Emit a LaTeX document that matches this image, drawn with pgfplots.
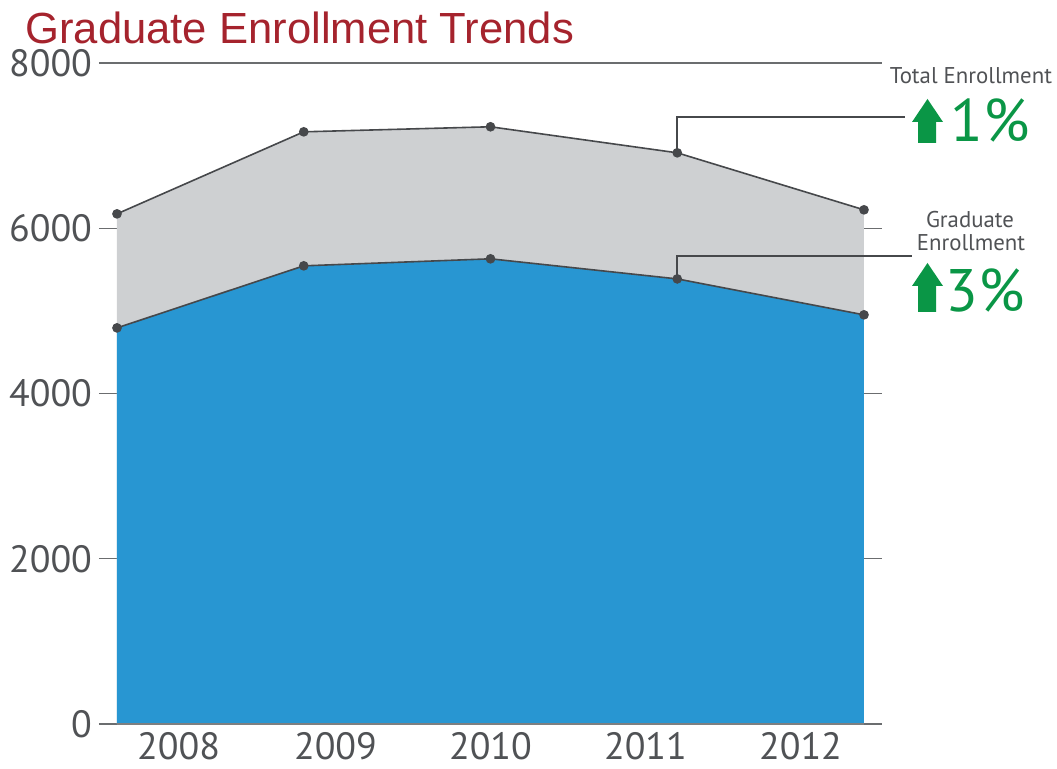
\documentclass[border=0pt]{standalone}
\usepackage{fontspec}
\setmainfont{PT Sans}
\newfontfamily\titlefont{Liberation Sans}
\usepackage{pgfplots}
\pgfplotsset{compat=1.18}
\definecolor{blue1}{RGB}{40,150,210}
\definecolor{gray1}{RGB}{206,208,210}
\definecolor{lineg}{RGB}{70,72,75}
\definecolor{titlered}{RGB}{165,35,45}
\definecolor{green1}{RGB}{10,150,70}
\definecolor{txtg}{RGB}{80,82,85}
\newcommand{\greenarrow}[3]{% left x, bottom y, top y (pt)
  \fill[green1] (#1+3pt,#2) -- (#1+12pt,#2) -- (#1+12pt,#3-11.5pt) -- (#1+15.5pt,#3-11.5pt)
    -- (#1+7.75pt,#3) -- (#1,#3-11.5pt) -- (#1+3pt,#3-11.5pt) -- cycle;}
\begin{document}
\begin{tikzpicture}
\useasboundingbox (-58.5pt,-22.5pt) rectangle (470pt,362pt);
\begin{axis}[at={(0,0)}, anchor=south west, scale only axis,
  width=373.5pt, height=330.5pt,
  xmin=0, xmax=4, ymin=0, ymax=8000,
  axis line style={draw=none},
  ytick={0,2000,4000,6000,8000}, ytick pos=both, yticklabel pos=left,
  tick align=outside, major tick length=9pt,
  ytick style={draw=lineg!80, line width=0.7pt},
  xtick={0.33,1.17,2.0,2.83,3.66},
  xticklabels={2008,2009,2010,2011,2012},
  xtick style={draw=none},
  xticklabel style={yshift=8.5pt},
  scaled y ticks=false,
  /pgf/number format/1000 sep={},
  /pgf/number format/assume math mode=true,
  ticklabel style={font=\fontsize{19}{19}\selectfont, text=txtg},
  clip=false]
\addplot[draw=none, fill=gray1] coordinates {(0,6174) (1,7167) (2,7228) (3,6913) (4,6223)} \closedcycle;
\addplot[draw=none, fill=blue1] coordinates {(0,4794) (1,5545) (2,5630) (3,5387) (4,4952)} \closedcycle;
\draw[lineg!70, line width=0.7pt] (axis cs:0,0) -- (axis cs:4,0);
\draw[lineg!80, line width=0.7pt] (axis cs:0,8000) -- (axis cs:4,8000);
\draw[lineg, line width=0.8pt] (axis cs:3,6913) -- (axis cs:3,7346) -- (axis cs:4.22,7346);
\draw[lineg, line width=0.8pt] (axis cs:3,5387) -- (axis cs:3,5664) -- (axis cs:4.257,5664);
\addplot[draw=lineg, line width=0.8pt, mark=*, mark size=2pt, mark options={fill=lineg}] coordinates {(0,6174) (1,7167) (2,7228) (3,6913) (4,6223)};
\addplot[draw=lineg, line width=0.8pt, mark=*, mark size=2pt, mark options={fill=lineg}] coordinates {(0,4794) (1,5545) (2,5630) (3,5387) (4,4952)};
\end{axis}
\node[anchor=base west, inner sep=0pt, text=titlered, font=\titlefont\fontsize{21.8}{22}\selectfont] at (-46pt,340pt) {Graduate Enrollment Trends};
\node[anchor=center, inner sep=0pt, text=txtg, font=\fontsize{11.4}{11.4}\selectfont] at (427pt,324pt) {Total Enrollment};
\greenarrow{397.5pt}{290.5pt}{312.5pt}
\node[anchor=base west, inner sep=0pt, text=green1, font=\fontsize{30}{30}\selectfont] at (416.5pt,291pt) {1\%};
\node[anchor=center, inner sep=0pt, text=txtg, font=\fontsize{11.4}{11.4}\selectfont] at (426.5pt,252pt) {Graduate};
\node[anchor=center, inner sep=0pt, text=txtg, font=\fontsize{11.4}{11.4}\selectfont] at (427pt,240.5pt) {Enrollment};
\greenarrow{397.5pt}{206pt}{230.5pt}
\node[anchor=base west, inner sep=0pt, text=green1, font=\fontsize{30}{30}\selectfont] at (414pt,206pt) {3\%};
\end{tikzpicture}
\end{document}
